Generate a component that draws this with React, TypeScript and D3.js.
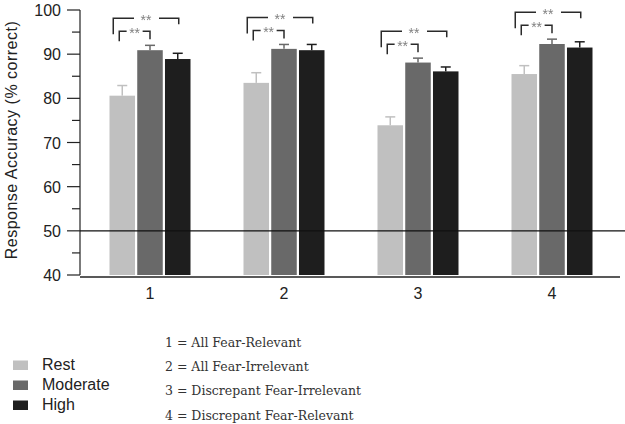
import React from "react";
import * as d3 from "d3";

const groups = ["1", "2", "3", "4"];
const seriesNames = ["Rest", "Moderate", "High"];
const seriesColors = ["#c0c0c0", "#696969", "#1e1e1e"];
const restValues = [80.6, 83.5, 73.9, 85.5];
const moderateValues = [90.9, 91.2, 88.1, 92.3];
const highValues = [88.9, 90.9, 86.1, 91.5];
const restErrors = [2.3, 2.3, 1.9, 1.9];
const moderateErrors = [1.1, 1.0, 1.0, 1.1];
const highErrors = [1.3, 1.3, 1.0, 1.3];
const yMajorTicks = [40, 50, 60, 70, 80, 90, 100];
const yMinorTicks = [45, 55, 65, 75, 85, 95];
const chanceLevel = 50;
const sigLabel = "**";
const conditionLabels = [
  "1 = All Fear-Relevant",
  "2 = All Fear-Irrelevant",
  "3 = Discrepant Fear-Irrelevant",
  "4 = Discrepant Fear-Relevant",
];
const yTitle = "Response Accuracy (% correct)";

const values = [restValues, moderateValues, highValues];
const errors = [restErrors, moderateErrors, highErrors];

export default function App() {
  const W = 625;
  const H = 424;
  const y = d3.scaleLinear().domain([40, 100]).range([275, 10]);
  const x0 = d3.scaleBand<string>().domain(groups).range([83, 619]).paddingInner(0);
  const x1 = d3
    .scaleBand<string>()
    .domain(seriesNames)
    .range([0, 81])
    .paddingInner(0.08)
    .paddingOuter(0);
  const axisX = 80;
  const sans = "'Liberation Sans', Arial, sans-serif";
  const serif = "'DejaVu Serif', serif";

  return (
    <svg width={W} height={H} style={{ position: "absolute", left: 0, top: 0, background: "#fff" }}>
      <defs>
        <filter id="gray-aa" x="-20%" y="-50%" width="140%" height="200%">
          <feColorMatrix type="saturate" values="0" />
        </filter>
      </defs>
      {/* bars and error bars */}
      {groups.map((g, gi) => {
        const gx = (x0(g) as number) + (x0.bandwidth() - 81) / 2;
        return (
          <g key={g} transform={`translate(${gx},0)`}>
            {seriesNames.map((s, si) => {
              const v = values[si][gi];
              const e = errors[si][gi];
              const bx = x1(s) as number;
              const bw = x1.bandwidth();
              const cx = bx + bw / 2;
              return (
                <g key={s}>
                  <rect x={bx} y={y(v)} width={bw} height={y(40) - y(v)} fill={seriesColors[si]} />
                  <line x1={cx} x2={cx} y1={y(v)} y2={y(v + e)} stroke={seriesColors[si]} strokeWidth={1.5} />
                  <line x1={cx - 5} x2={cx + 5} y1={y(v + e)} y2={y(v + e)} stroke={seriesColors[si]} strokeWidth={1.5} />
                </g>
              );
            })}
            {(() => {
              const restC = (x1("Rest") as number) + x1.bandwidth() / 2;
              const modC = (x1("Moderate") as number) + x1.bandwidth() / 2;
              const highC = (x1("High") as number) + x1.bandwidth() / 2;
              const topMod = y(moderateValues[gi] + moderateErrors[gi]);
              const innerY = topMod - 14;
              const outerY = innerY - 13;
              const il = restC - 3;
              const ir = modC;
              const ol = restC - 9;
              const or = highC + 1;
              const im = (il + ir) / 2;
              const om = (ol + or) / 2;
              const st = { stroke: "#2a2a2a", strokeWidth: 1.5, fill: "none" };
              return (
                <g>
                  <path d={`M${ol},${outerY + 16}V${outerY}H${om - 12}`} {...st} />
                  <path d={`M${om + 13},${outerY}H${or}V${outerY + 6}`} {...st} />
                  <path d={`M${il},${innerY + 10}V${innerY}H${im - 8}`} {...st} />
                  <path d={`M${im + 8},${innerY}H${ir}V${innerY + 8}`} {...st} />
                  <g filter="url(#gray-aa)">
                    <text x={om} y={outerY + 7} textAnchor="middle" fontSize={14} fill="#808080" fontFamily={sans}>{sigLabel}</text>
                    <text x={im} y={innerY + 7} textAnchor="middle" fontSize={14} fill="#808080" fontFamily={sans}>{sigLabel}</text>
                  </g>
                </g>
              );
            })()}
          </g>
        );
      })}

      {/* y axis */}
      <line x1={axisX} x2={axisX} y1={y(100)} y2={y(40)} stroke="#222" strokeWidth={1.2} />
      {yMajorTicks.map((t) => (
        <g key={t}>
          <line x1={axisX - 13} x2={axisX} y1={y(t)} y2={y(t)} stroke="#222" strokeWidth={1.2} />
          <text x={61} y={y(t) + 6} textAnchor="end" fontSize={16} fill="#222" fontFamily={sans}>{t}</text>
        </g>
      ))}
      {yMinorTicks.map((t) => (
        <line key={t} x1={axisX - 8} x2={axisX} y1={y(t)} y2={y(t)} stroke="#222" strokeWidth={1.2} />
      ))}
      <text
        transform={`translate(17,140) rotate(-90)`}
        textAnchor="middle"
        fontSize={16}
        letterSpacing={0.5}
        fill="#222"
        fontFamily={sans}
      >
        {yTitle}
      </text>

      {/* x axis */}
      <line x1={axisX} x2={620} y1={277} y2={277} stroke="#222" strokeWidth={1.5} />
      {groups.map((g) => (
        <text key={g} x={(x0(g) as number) + x0.bandwidth() / 2} y={299} textAnchor="middle" fontSize={16} fill="#222" fontFamily={sans}>
          {g}
        </text>
      ))}

      {/* chance line */}
      <line x1={axisX} x2={W} y1={y(chanceLevel)} y2={y(chanceLevel)} stroke="#111" strokeWidth={1.3} />

      {/* series legend */}
      {seriesNames.map((s, i) => (
        <g key={s} transform={`translate(0,${370 + i * 20})`}>
          <rect x={13} y={-9.5} width={15} height={9.5} fill={seriesColors[i]} />
          <text x={42} y={0} fontSize={16} fill="#222" fontFamily={sans}>{s}</text>
        </g>
      ))}

      {/* condition legend */}
      {conditionLabels.map((c, i) => (
        <text key={c} x={165} y={347 + i * 24.2} fontSize={12.5} fill="#333" fontFamily={serif}>
          {c}
        </text>
      ))}
    </svg>
  );
}
